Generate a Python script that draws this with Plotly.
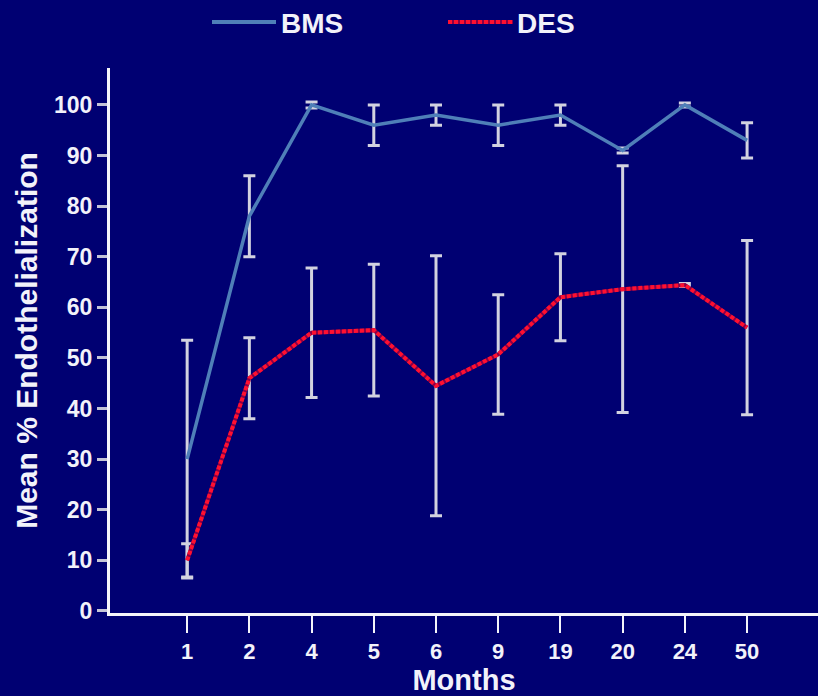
import plotly.graph_objects as go

# Follow-up time points (months)
months = ["1", "2", "4", "5", "6", "9", "19", "20", "24", "50"]

# Mean % endothelialization and error half-widths, bare-metal stents
bms_mean = [30, 78, 100, 96, 98, 96, 98, 91, 100, 93]
bms_err = [23.5, 8, 0.6, 4, 2, 4, 2, 0.5, 0.4, 3.5]

# Mean % endothelialization and error half-widths, drug-eluting stents
des_mean = [10, 46, 55, 55.5, 44.5, 50.7, 62, 63.6, 64.4, 56]
des_err = [3.3, 8, 12.8, 13, 25.7, 11.8, 8.6, 24.4, 0.3, 17.2]

y_ticks = [0, 10, 20, 30, 40, 50, 60, 70, 80, 90, 100]

BG = "#000072"
TXT = "#F2F2FA"
ERR = "#D2D2E0"
BMS_COL = "#4F7FB8"
DES_COL = "#FF1030"
DES_DARK = "#8A0048"
FONT = "Liberation Sans"

fig = go.Figure()

fig.add_trace(go.Scatter(
    x=months, y=bms_mean, mode="lines", name="BMS",
    line=dict(color=BMS_COL, width=3.5),
    error_y=dict(type="data", array=bms_err, color=ERR, thickness=3, width=6),
    showlegend=False,
))

# DES: dark base under a bright dotted line
fig.add_trace(go.Scatter(
    x=months, y=des_mean, mode="lines",
    line=dict(color=DES_DARK, width=4),
    error_y=dict(type="data", array=des_err, color=ERR, thickness=3, width=6),
    showlegend=False, hoverinfo="skip",
))
fig.add_trace(go.Scatter(
    x=months, y=des_mean, mode="lines", name="DES",
    line=dict(color=DES_COL, width=4, dash="4px,2px"),
    showlegend=False,
))

L, R, T, B = 110, 0, 68, 83
W, H = 818, 696
pw, ph = W - L - R, H - T - B


def px(x):
    return (x - L) / pw


def py(y):
    return (H - B - y) / ph


# Legend drawn above the plot
legend_items = [
    ("BMS", BMS_COL, "solid", 212, 276, 279),
    ("DES", DES_COL, "4px,2px", 448, 513, 515),
]
shapes = []
annotations = []
for name, col, dash, x0, x1, xt in legend_items:
    if name == "DES":
        shapes.append(dict(type="line", xref="paper", yref="paper",
                           x0=px(x0), x1=px(x1), y0=py(22), y1=py(22),
                           line=dict(color=DES_DARK, width=4)))
    shapes.append(dict(type="line", xref="paper", yref="paper",
                       x0=px(x0), x1=px(x1), y0=py(22), y1=py(22),
                       line=dict(color=col, width=4, dash=dash)))
    annotations.append(dict(xref="paper", yref="paper", x=px(xt), y=py(23),
                            xanchor="left", yanchor="middle", showarrow=False,
                            text=f"<b>{name}</b>",
                            font=dict(family=FONT, size=28, color=TXT)))

fig.update_layout(
    width=W, height=H,
    margin=dict(l=L, r=R, t=T, b=B, pad=0),
    paper_bgcolor=BG, plot_bgcolor=BG,
    showlegend=False,
    shapes=shapes, annotations=annotations,
    font=dict(family=FONT, color=TXT),
    xaxis=dict(
        type="category", categoryorder="array", categoryarray=months,
        tickvals=months, ticktext=[f"<b>{m}</b>" for m in months],
        range=[-1.24, 10.14],
        showline=True, linecolor="#F4F4FA", linewidth=3,
        ticks="outside", ticklen=17, tickwidth=2, tickcolor="#F4F4FA",
        showgrid=False, zeroline=False,
        tickfont=dict(family=FONT, size=22, color=TXT),
        title=dict(text="<b>Months</b>", standoff=11,
                   font=dict(family=FONT, size=29, color=TXT)),
    ),
    yaxis=dict(
        range=[-0.4, 107.3], tickvals=y_ticks,
        ticktext=[f"<b>{v}</b>" for v in y_ticks],
        showline=True, linecolor="#F4F4FA", linewidth=3,
        ticks="outside", ticklen=10, tickwidth=3, tickcolor="#C4C4D6",
        showgrid=False, zeroline=False,
        tickfont=dict(family=FONT, size=23, color=TXT),
        title=dict(text="<b>Mean % Endothelialization</b>", standoff=8,
                   font=dict(family=FONT, size=30, color=TXT)),
    ),
)

fig.write_html("out.html")
